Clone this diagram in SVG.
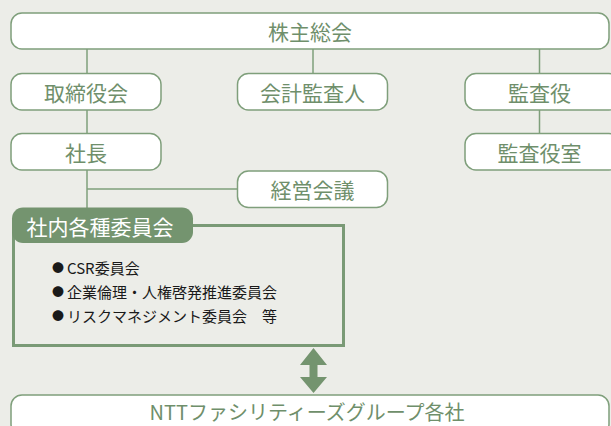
<svg xmlns="http://www.w3.org/2000/svg" width="611" height="426" viewBox="0 0 611 426">
<style>
.bg{fill:#ecede8}
.box{fill:#ffffff;stroke:#7f9f7b;stroke-width:1.5}
.lbl{font-family:"Noto Sans CJK JP","Noto Sans",sans-serif;font-size:21px;fill:#6f8f6b;text-anchor:middle;dominant-baseline:central}
.conn line{stroke:#7f9f7b;stroke-width:1.5}
.item{font-family:"Noto Sans CJK JP","Noto Sans",sans-serif;font-size:15px;fill:#1a1a1a}
.bul{font-family:"Noto Sans CJK JP","Noto Sans",sans-serif;font-size:12px;fill:#1a1a1a}
</style>
<rect class="bg" x="0" y="0" width="611" height="426"/>
<g class="conn" id="connectors">
<line x1="87" y1="49" x2="87" y2="73"/>
<line x1="313" y1="49" x2="313" y2="73"/>
<line x1="539.5" y1="49" x2="539.5" y2="73"/>
<line x1="87" y1="110" x2="87" y2="133"/>
<line x1="539.5" y1="110" x2="539.5" y2="133"/>
<line x1="87" y1="170" x2="87" y2="208"/>
<line x1="87" y1="189" x2="237.5" y2="189"/>
<polygon points="313.5,348 300,365 309.5,365 309.5,377 300,377 313.5,393 327,377 317.5,377 317.5,365 327,365" fill="#74946f"/>
</g>
<g id="n-kabunushi">
<rect class="box" x="11" y="13" width="598" height="36" rx="11"/>
<text class="lbl" x="310" y="31">株主総会</text>
</g>
<g id="n-torishimariyaku">
<rect class="box" x="11" y="73.5" width="150" height="36.5" rx="11"/>
<text class="lbl" x="86" y="91.5">取締役会</text>
</g>
<g id="n-kaikei">
<rect class="box" x="237.5" y="73.5" width="150" height="36.5" rx="11"/>
<text class="lbl" x="312.5" y="91.5">会計監査人</text>
</g>
<g id="n-kansayaku">
<rect class="box" x="465" y="73.5" width="155" height="36.5" rx="11"/>
<text class="lbl" x="539.5" y="91.5">監査役</text>
</g>
<g id="n-shacho">
<rect class="box" x="11" y="133.5" width="150" height="36.5" rx="11"/>
<text class="lbl" x="86" y="151.5">社長</text>
</g>
<g id="n-kansayakushitsu">
<rect class="box" x="465" y="133.5" width="155" height="36.5" rx="11"/>
<text class="lbl" x="539.5" y="151.5">監査役室</text>
</g>
<g id="n-keiei">
<rect class="box" x="237.5" y="171" width="150" height="36.5" rx="11"/>
<text class="lbl" x="312.5" y="189">経営会議</text>
</g>
<g id="n-iinkai">
<rect x="13.5" y="225.5" width="330" height="120" fill="none" stroke="#7a9a76" stroke-width="3"/>
<rect x="12" y="207.5" width="181" height="35.5" rx="11" fill="#74946f"/>
<text class="lbl" x="100" y="226" style="fill:#ffffff">社内各種委員会</text>
<text class="bul" x="52" y="273">●</text>
<text class="item" x="67" y="274">CSR委員会</text>
<text class="bul" x="52" y="297">●</text>
<text class="item" x="67" y="298">企業倫理・人権啓発推進委員会</text>
<text class="bul" x="52" y="321">●</text>
<text class="item" x="67" y="322">リスクマネジメント委員会　等</text>
</g>
<g id="n-group">
<rect class="box" x="11" y="395" width="598" height="40" rx="11"/>
<text class="lbl" x="307" y="411" style="font-size:20px">NTTファシリティーズグループ各社</text>
</g>
</svg>
